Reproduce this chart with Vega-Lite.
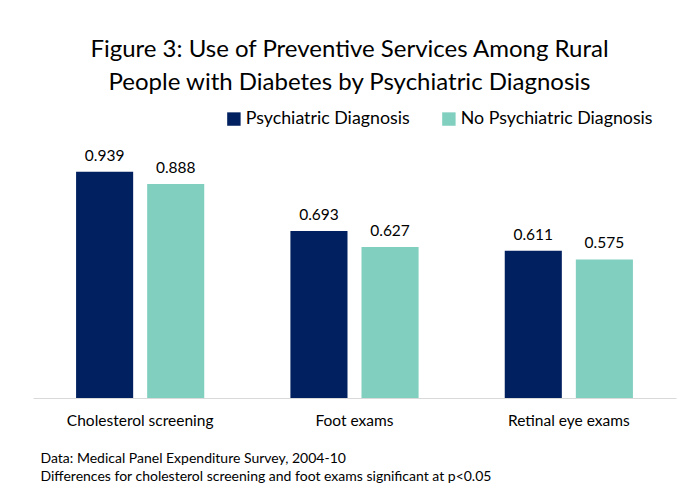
{
  "$schema": "https://vega.github.io/schema/vega-lite/v6.json",
  "width": 643,
  "height": 241,
  "autosize": "none",
  "padding": {"left": 33, "top": 157, "right": 23, "bottom": 94},
  "background": "white",
  "config": {
    "view": {"stroke": null},
    "font": "Lato"
  },
  "title": {
    "text": ["Figure 3: Use of Preventive Services Among Rural", "People with Diabetes by Psychiatric Diagnosis"],
    "font": "Lato",
    "fontSize": 24,
    "fontWeight": "normal",
    "color": "#000000",
    "anchor": "middle",
    "frame": "group",
    "dx": -5,
    "lineHeight": 33,
    "offset": 15
  },
  "data": {
    "values": [
      {"service": "Cholesterol screening", "group": "Psychiatric Diagnosis", "value": 0.939},
      {"service": "Cholesterol screening", "group": "No Psychiatric Diagnosis", "value": 0.888},
      {"service": "Foot exams", "group": "Psychiatric Diagnosis", "value": 0.693},
      {"service": "Foot exams", "group": "No Psychiatric Diagnosis", "value": 0.627},
      {"service": "Retinal eye exams", "group": "Psychiatric Diagnosis", "value": 0.611},
      {"service": "Retinal eye exams", "group": "No Psychiatric Diagnosis", "value": 0.575}
    ]
  },
  "encoding": {
    "x": {
      "field": "service",
      "type": "nominal",
      "sort": ["Cholesterol screening", "Foot exams", "Retinal eye exams"],
      "scale": {"paddingInner": 0, "paddingOuter": 0},
      "axis": {
        "title": ["Data: Medical Panel Expenditure Survey, 2004-10", "Differences for cholesterol screening and foot exams significant at p<0.05"],
        "titleFont": "Lato",
        "titleFontSize": 14,
        "titleFontWeight": "normal",
        "titleColor": "#000000",
        "titleAnchor": "start",
        "titleAlign": "left",
        "titleBaseline": "alphabetic",
        "titleX": 7,
        "titleY": 64,
        "titleLineHeight": 18,
        "labelAngle": 0,
        "labelFont": "Lato",
        "labelFontSize": 15.5,
        "labelColor": "#000000",
        "labelPadding": 15,
        "ticks": false,
        "domainColor": "#D9D9D9",
        "domainWidth": 1.2
      }
    },
    "xOffset": {
      "field": "group",
      "type": "nominal",
      "sort": ["Psychiatric Diagnosis", "No Psychiatric Diagnosis"],
      "scale": {"paddingInner": 0.197, "paddingOuter": 0.606}
    },
    "y": {
      "field": "value",
      "type": "quantitative",
      "scale": {"domain": [0, 1]},
      "axis": null
    }
  },
  "layer": [
    {
      "mark": {"type": "bar"},
      "encoding": {
        "color": {
          "field": "group",
          "type": "nominal",
          "sort": ["Psychiatric Diagnosis", "No Psychiatric Diagnosis"],
          "scale": {"domain": ["Psychiatric Diagnosis", "No Psychiatric Diagnosis"], "range": ["#002060", "#80CFBF"]},
          "legend": {
            "title": null,
            "orient": "none",
            "direction": "horizontal",
            "legendX": 192,
            "legendY": -47,
            "symbolType": "square",
            "symbolSize": 180,
            "symbolStrokeWidth": 0,
            "symbolOpacity": 1,
            "labelFont": "Lato",
            "labelFontSize": 17.8,
            "labelColor": "#000000",
            "labelOffset": 3,
            "columnPadding": 30,
            "labelLimit": 400
          }
        }
      }
    },
    {
      "mark": {"type": "text", "baseline": "bottom", "dy": -8, "font": "Lato", "fontSize": 15.5, "color": "#000000"},
      "encoding": {
        "text": {"field": "value", "type": "quantitative", "format": ".3f"}
      }
    }
  ]
}
